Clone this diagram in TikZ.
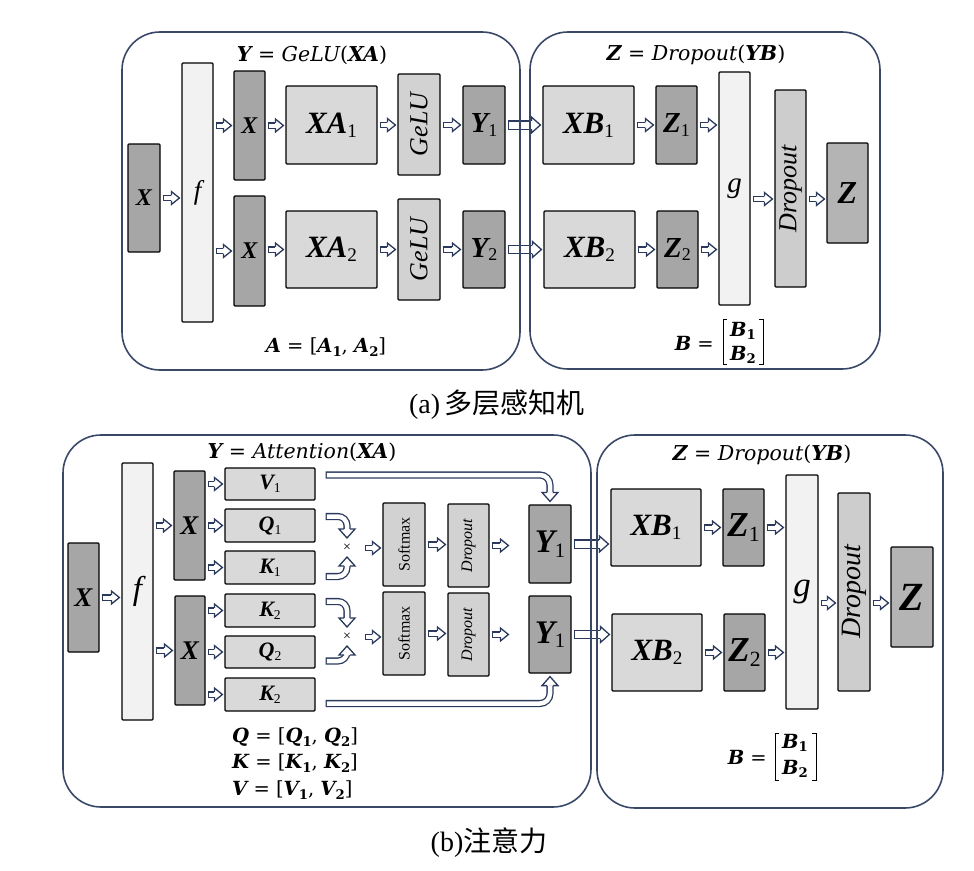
\documentclass[tikz,border=0pt]{standalone}
\usepackage{fontspec}
\usepackage{graphicx}
\setmainfont{Liberation Serif}
\newfontfamily\mf{DejaVu Serif}
\newfontfamily\cjk{Noto Sans CJK SC}
\usetikzlibrary{calc}
\definecolor{ac}{HTML}{2B3A5C}
\definecolor{pc}{HTML}{3A4868}
\definecolor{cdark}{HTML}{A6A6A6}
\definecolor{cmid}{HTML}{D9D9D9}
\definecolor{cgelu}{HTML}{D2D2D2}
\definecolor{clight}{HTML}{F2F2F2}
\definecolor{cdrop}{HTML}{CDCDCD}
\definecolor{cz}{HTML}{B4B4B4}
\newcommand\fs[1]{\fontsize{#1}{#1}\selectfont}
\newcommand\bi{\bfseries\itshape}
\newcommand\sbs[1]{\raisebox{-0.3ex}{\mdseries\upshape\scalebox{0.62}{#1}}}
\newcommand\msb[1]{\raisebox{-0.35ex}{\scalebox{0.68}{\bfseries\upshape #1}}}
\newcommand\bxat[7]{\node[#1, minimum width=#5pt-#3pt, minimum height=#6pt-#4pt] (#2) at ({(#3+#5)/2},{(#4+#6)/2}) {#7};}
% hollow arrow: outer width, inner width, head length, head half width, path, tip, angle
\newcommand\hollowarrow[7]{%
  \draw[ac, line width=#1pt, shorten >=#3pt] #5;
  \draw[white, line width=#2pt, shorten >=#3pt, shorten <=1.3pt] #5;
  \filldraw[ac, fill=white, line width=1.3pt, shift={#6}, rotate=#7]
    (-#3,{(#1)/2-0.65}) -- (-#3,#4) -- (0,0) -- (-#3,-#4) -- (-#3,{-(#1)/2+0.65});
}
\newcommand\harr[3][0]{%
  \path #2 ++(2,#1) coordinate (hs);
  \path #3 ++(-2,0) coordinate (ht);
  \hollowarrow{6.6}{4}{8}{6.5}{(hs) -- (hs -| ht)}{(hs -| ht)}{0}}
\newcommand\bharr[3][0]{%
  \path #2 ++(2,#1) coordinate (hs);
  \path #3 ++(-2,0) coordinate (ht);
  \hollowarrow{9.6}{7}{9}{8}{(hs) -- (hs -| ht)}{(hs -| ht)}{0}}
\newcommand\marr[3]{\hollowarrow{7.1}{4.5}{9}{8}{#1}{#2}{#3}}
\tikzset{
  bx/.style={draw=black, line width=1.2pt, inner sep=0pt, rounded corners=1pt},
  dk/.style={bx, fill=cdark},
  md/.style={bx, fill=cmid},
  gl/.style={bx, fill=cgelu},
  lt/.style={bx, fill=clight},
  dr/.style={bx, fill=cdrop},
  zz/.style={bx, fill=cz},
  panel/.style={draw=pc, line width=1.6pt, rounded corners=38pt},
  fml/.style={font=\mf\fs{20.5}, inner sep=0pt},
  fms/.style={font=\mf\fs{19.5}, inner sep=0pt},
  brk/.style={draw=black, line width=1pt},
}
\begin{document}
\begin{tikzpicture}[x=1pt,y=-1pt]
\useasboundingbox (0,0) rectangle (974,870);
% ===== top: left panel =====
\bxat{dk}{aX}{128}{144}{160}{252}{\fs{24}\bi X}
\bxat{lt}{af}{182}{63}{213}{322}{\fs{27}\itshape f}
\bxat{dk}{aX1}{234}{71}{265}{180}{\fs{24}\bi X}
\bxat{dk}{aX2}{234}{196}{265}{306}{\fs{24}\bi X}
\bxat{md}{aXA1}{286}{86}{377}{164}{\fs{31}\bi XA\sbs{1}}
\bxat{md}{aXA2}{286}{211}{377}{288}{\fs{31}\bi XA\sbs{2}}
\bxat{gl}{aG1}{398}{74}{440}{175}{\rotatebox{90}{\fs{26}\itshape GeLU}}
\bxat{gl}{aG2}{398}{199}{440}{300}{\rotatebox{90}{\fs{26}\itshape GeLU}}
\bxat{dk}{aY1}{463}{86}{505}{164}{\fs{29}\bi Y\sbs{1}}
\bxat{dk}{aY2}{463}{211}{505}{288}{\fs{29}\bi Y\sbs{2}}
% ===== top: right panel =====
\bxat{md}{aXB1}{543}{86}{634}{164}{\fs{31}\bi XB\sbs{1}}
\bxat{md}{aXB2}{544}{211}{635}{288}{\fs{31}\bi XB\sbs{2}}
\bxat{dk}{aZ1}{656}{86}{697}{164}{\fs{29}\bi Z\sbs{1}}
\bxat{dk}{aZ2}{657}{211}{698}{288}{\fs{29}\bi Z\sbs{2}}
\bxat{lt}{ag}{719}{72}{750}{305}{\fs{29}\itshape g}
\bxat{dr}{aD}{775}{90}{806}{287}{\rotatebox{90}{\fs{26}\itshape Dropout}}
\bxat{zz}{aZ}{827}{143}{868}{243}{\fs{32}\bi Z}
% top arrows
\harr{(aX.east)}{(af.west)}
\harr{(af.east |- aX1.center)}{(aX1.west)}
\harr{(af.east |- aX2.center)}{(aX2.west)}
\harr{(aX1.east)}{(aXA1.west)}
\harr{(aX2.east |- aXA2.center)}{(aXA2.west)}
\harr{(aXA1.east)}{(aG1.west)}
\harr{(aXA2.east)}{(aG2.west)}
\harr{(aG1.east |- aY1.center)}{(aY1.west)}
\harr{(aG2.east |- aY2.center)}{(aY2.west)}
\bharr{(aY1.east)}{(aXB1.west)}
\bharr{(aY2.east)}{(aXB2.west)}
\harr{(aXB1.east)}{(aZ1.west)}
\harr{(aXB2.east)}{(aZ2.west)}
\harr{(aZ1.east)}{(ag.west)}
\harr{(aZ2.east)}{(ag.west)}
\harr[6]{(ag.east |- aZ.center)}{(aD.west)}
\harr[6]{(aD.east |- aZ.center)}{(aZ.west)}
% top labels
\node[fml] (aLY) at (312,55) {{\bi Y} = {\itshape GeLU}({\bi XA})};
\node[fms] (aLA) at (326,347) {{\bi A} = [{\bi A}\msb{1}, {\bi A}\msb{2}]};
\node[fml] (aLZ) at (696,55) {{\bi Z} = {\itshape Dropout}({\bi YB})};
\node[fms, anchor=east] (aLB) at (714,343) {{\bi B} =};
\node[fms] (aB1) at (743,331) {{\bi B}\msb{1}};
\node[fms] (aB2) at (743,355) {{\bi B}\msb{2}};
\draw[brk] (727,319) -- (723,319) -- (723,364) -- (727,364);
\draw[brk] (759,319) -- (763,319) -- (763,364) -- (759,364);
\node[inner sep=0pt] (capA) at (497,405) {\fs{28}(a)\,{\cjk 多层感知机}};
% top panels
\draw[panel] (122,32) rectangle (520,370);
\draw[panel] (530,32) rectangle (880,369);
% ===== bottom: left panel =====
\bxat{dk}{bX}{68}{543}{99}{652}{\fs{27}\bi X}
\bxat{lt}{bf}{122}{463}{153}{720}{\fs{33}\itshape f}
\bxat{dk}{bX1}{174}{471}{205}{580}{\fs{27}\bi X}
\bxat{dk}{bX2}{175}{596}{205}{705}{\fs{27}\bi X}
\bxat{md}{bV1}{225}{468}{315}{500}{\fs{22}\bi V\sbs{1}}
\bxat{md}{bQ1}{225}{509}{315}{542}{\fs{22}\bi Q\sbs{1}}
\bxat{md}{bK1}{225}{551}{315}{584}{\fs{22}\bi K\sbs{1}}
\bxat{md}{bK2}{225}{594}{315}{627}{\fs{22}\bi K\sbs{2}}
\bxat{md}{bQ2}{225}{636}{315}{668}{\fs{22}\bi Q\sbs{2}}
\bxat{md}{bV2}{225}{678}{315}{711}{\fs{22}\bi K\sbs{2}}
\node[font=\fs{14}, inner sep=0pt] (m1) at (347,548) {×};
\node[font=\fs{14}, inner sep=0pt] (m2) at (347,637) {×};
\bxat{gl}{bS1}{383}{503}{425}{586}{\rotatebox{90}{\fs{16}Softmax}}
\bxat{gl}{bD1}{448}{504}{489}{587}{\rotatebox{90}{\fs{16}\itshape Dropout}}
\bxat{dk}{bY1}{529}{505}{571}{583}{\fs{33}\bi Y\sbs{1}}
\bxat{gl}{bS2}{383}{592}{425}{675}{\rotatebox{90}{\fs{16}Softmax}}
\bxat{gl}{bD2}{448}{593}{489}{676}{\rotatebox{90}{\fs{16}\itshape Dropout}}
\bxat{dk}{bY2}{529}{596}{571}{673}{\fs{33}\bi Y\sbs{1}}
% ===== bottom: right panel =====
\bxat{md}{bXB1}{611}{489}{701}{566}{\fs{31}\bi XB\sbs{1}}
\bxat{md}{bXB2}{612}{614}{702}{691}{\fs{31}\bi XB\sbs{2}}
\bxat{dk}{bZ1}{723}{489}{764}{566}{\fs{35}\bi Z\sbs{1}}
\bxat{dk}{bZ2}{724}{614}{765}{691}{\fs{35}\bi Z\sbs{2}}
\bxat{lt}{bg}{786}{475}{818}{709}{\fs{35}\itshape g}
\bxat{dr}{bD}{838}{493}{870}{691}{\rotatebox{90}{\fs{28}\itshape Dropout}}
\bxat{zz}{bZ}{891}{547}{933}{647}{\fs{40}\bi Z}
% bottom arrows
\harr{(bX.east)}{(bf.west)}
\harr{(bf.east |- bX1.center)}{(bX1.west)}
\harr{(bf.east |- bX2.center)}{(bX2.west)}
\harr{(bX1.east |- bV1.center)}{(bV1.west)}
\harr{(bX1.east |- bQ1.center)}{(bQ1.west)}
\harr{(bX1.east |- bK1.center)}{(bK1.west)}
\harr{(bX2.east |- bK2.center)}{(bK2.west)}
\harr{(bX2.east |- bQ2.center)}{(bQ2.west)}
\harr{(bX2.east |- bV2.center)}{(bV2.west)}
\marr{([xshift=10pt,yshift=9pt]bQ1.east) [rounded corners=9pt] -| ([yshift=10pt]m1.center)}{([yshift=10pt]m1.center)}{-90}
\marr{([xshift=10pt,yshift=-9pt]bK1.east) [rounded corners=9pt] -| ([yshift=-9pt]m1.center)}{([yshift=-9pt]m1.center)}{90}
\marr{([xshift=10pt,yshift=9pt]bK2.east) [rounded corners=9pt] -| ([yshift=10pt]m2.center)}{([yshift=10pt]m2.center)}{-90}
\marr{([xshift=10pt,yshift=-9pt]bQ2.east) [rounded corners=9pt] -| ([yshift=-9pt]m2.center)}{([yshift=-9pt]m2.center)}{90}
\marr{([xshift=10pt,yshift=9pt]bV1.east) [rounded corners=10pt] -| ([yshift=3pt]bY1.north)}{([yshift=3pt]bY1.north)}{-90}
\marr{([xshift=10pt,yshift=-9pt]bV2.east) [rounded corners=10pt] -| ([yshift=-3pt]bY2.south)}{([yshift=-3pt]bY2.south)}{90}
\harr{([xshift=16pt]m1.center)}{(bS1.west)}
\harr{([xshift=16pt]m2.center)}{(bS2.west)}
\harr{(bS1.east)}{(bD1.west)}
\harr{(bS2.east)}{(bD2.west)}
\harr{(bD1.east)}{([xshift=-18pt]bY1.west)}
\harr{(bD2.east)}{([xshift=-18pt]bY2.west)}
\bharr{(bY1.east)}{(bXB1.west)}
\bharr{(bY2.east)}{(bXB2.west)}
\harr{(bXB1.east)}{(bZ1.west)}
\harr{(bXB2.east)}{(bZ2.west)}
\harr{(bZ1.east)}{(bg.west)}
\harr{(bZ2.east)}{(bg.west)}
\harr[6]{(bg.east |- bZ.center)}{(bD.west)}
\harr[6]{(bD.east |- bZ.center)}{(bZ.west)}
% bottom labels
\node[fml] (bLY) at (302,452) {{\bi Y} = {\itshape Attention}({\bi XA})};
\node[fms, anchor=west] (bLQ) at (232,737) {{\bi Q} = [{\bi Q}\msb{1}, {\bi Q}\msb{2}]};
\node[fms, anchor=west] (bLK) at (232,763) {{\bi K} = [{\bi K}\msb{1}, {\bi K}\msb{2}]};
\node[fms, anchor=west] (bLV) at (232,790) {{\bi V} = [{\bi V}\msb{1}, {\bi V}\msb{2}]};
\node[fml] (bLZ) at (762,455) {{\bi Z} = {\itshape Dropout}({\bi YB})};
\node[fms, anchor=east] (bLB) at (767,757) {{\bi B} =};
\node[fms] (bB1) at (795,743) {{\bi B}\msb{1}};
\node[fms] (bB2) at (795,769) {{\bi B}\msb{2}};
\draw[brk] (779,733) -- (775,733) -- (775,780) -- (779,780);
\draw[brk] (812,733) -- (816,733) -- (816,780) -- (812,780);
\node[inner sep=0pt] (capB) at (489,843) {\fs{28}(b){\cjk 注意力}};
% bottom panels
\draw[panel] (63,435) rectangle (591,807);
\draw[panel] (597,435) rectangle (943,808);
\end{tikzpicture}
\end{document}
